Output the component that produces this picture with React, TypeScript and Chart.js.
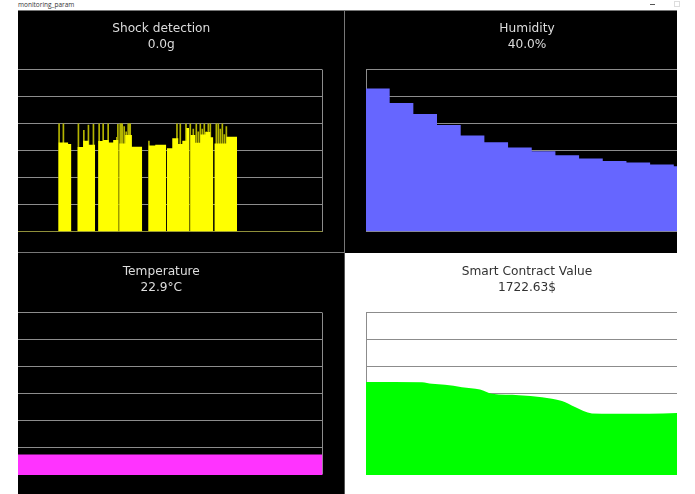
import * as React from "react"
import { Chart, registerables } from "chart.js"

Chart.register(...registerables)

// shock samples: null closes a run of readings
const shockX = [58.3, 68, 71.3, 71.4, 77.3, 83, 88.5, 95, 95.1, 98, 103, 108.5, 113, 118.3, 118.4, 119, 125, 131.7, 142, 142.1, 148.3, 155, 166, 166.1, 166.7, 172, 178, 182, 186, 189, 189.1, 190, 195, 200, 205, 210, 213, 213.1, 214, 226, 236.7]
const shockY = [3.31, 3.25, 3.25, null, 3.14, 3.37, 3.22, 3.22, null, 3.36, 3.4, 3.31, 3.4, 3.4, null, 3.27, 3.58, 3.15, 3.15, null, 3.19, 3.22, 3.22, null, 3.09, 3.46, 3.25, 3.37, 3.84, 3.84, null, 3.58, 3.3, 3.6, 3.7, 3.5, 3.5, null, 3.27, 3.52, 3.52]
const spikeX = [59, 63.3, 78.3, 83.7, 88.3, 93.3, 99, 103, 108, 116.7, 117.7, 120, 121, 122, 124, 126, 128, 129, 130, 148.7, 176.7, 180, 185.7, 190, 193, 196, 198, 200, 202, 204, 206, 208, 210, 216, 218, 220, 222, 224, 226]
const spikeY = [4, 4, 4, 3.76, 3.95, 3.98, 4, 4, 4, 3.5, 3.98, 4, 4, 4, 3.9, 3.7, 4, 4, 4, 3.36, 4, 4, 4, 4, 3.8, 4, 3.7, 4, 3.8, 4, 3.7, 4, 4, 4, 4, 3.8, 4, 3.6, 3.9]

const humidityValues = [88.6, 79.5, 72.7, 65.9, 59.4, 55.2, 52, 49.7, 47.2, 45.2, 43.7, 42.7, 41.5, 40.4, 40.4]

const temperatureX = [0, 322]
const temperatureValues = [22.9, 22.9]

const contractX = [0, 56, 66, 79, 96, 114, 126, 153, 176, 196, 209, 226, 246, 283, 311]
const contractValues = [2574, 2565, 2519, 2491, 2426, 2361, 2241, 2204, 2148, 2037, 1870, 1694, 1685, 1685, 1704]

const zip = (xs: number[], ys: (number | null)[]) => xs.map((x, i) => ({ x, y: ys[i] }))

function area(data: any[], color: string, stepped: any) {
  return {
    type: "line",
    data,
    stepped,
    fill: "origin",
    backgroundColor: color,
    borderWidth: 0,
    pointRadius: 0,
    tension: 0,
    spanGaps: false,
  }
}

function Panel({ box, canvasLeft, canvasWidth, padding, title, titleColor, bg, datasets, xMax, yMax, baseColor }: any) {
  const ref = React.useRef<HTMLCanvasElement>(null)

  React.useEffect(() => {
    if (!ref.current) return
    const chart = new Chart(ref.current, {
      data: { datasets },
      options: {
        responsive: false,
        animation: false,
        layout: { padding },
        plugins: {
          legend: { display: false },
          tooltip: { enabled: false },
          title: {
            display: true,
            text: title,
            color: titleColor,
            fullSize: false,
            font: { family: "DejaVu Sans", size: 12.2, weight: "normal", lineHeight: 1.31 },
            padding: { top: 10.5, bottom: 17.5 },
          },
        },
        scales: {
          x: {
            type: "linear",
            min: 0,
            max: xMax,
            // bar defaults would otherwise inset the scale
            offset: false,
            afterBuildTicks: (s: any) => { s.ticks = [{ value: 0 }, { value: xMax }] },
            ticks: { display: false },
            border: { display: false },
            grid: { color: "#8c8c8c", drawTicks: false, offset: false },
          },
          y: {
            min: 0,
            max: yMax,
            ticks: { display: false, count: 7 },
            border: { display: false },
            grid: {
              drawTicks: false,
              color: (c: any) => (c.tick.value === 0 ? baseColor : "#8c8c8c"),
            },
          },
        },
      } as any,
    } as any)
    return () => chart.destroy()
  }, [])

  return (
    <div style={{ position: "absolute", overflow: "hidden", background: bg, ...box }}>
      <canvas
        ref={ref}
        width={canvasWidth}
        height={box.height}
        style={{ position: "absolute", left: canvasLeft, top: 0, width: canvasWidth, height: box.height }}
      />
    </div>
  )
}

export default function App() {
  const shockSets = [
    area(zip(shockX, shockY), "#ffff00", "before"),
    { type: "bar", data: zip(spikeX, spikeY), backgroundColor: "#b4b400", barThickness: 1 },
  ]
  const contract = {
    ...area(zip(contractX, contractValues), "#00ff00", false),
    cubicInterpolationMode: "monotone",
  }

  return (
    <div style={{ position: "fixed", inset: 0, background: "#fff", overflow: "hidden" }}>
      <div style={{ position: "absolute", left: 18, top: 0, font: "6.5px 'Open Sans'", lineHeight: "9px", color: "#333" }}>monitoring_param</div>
      <div style={{ position: "absolute", left: 650, top: 4, width: 5, height: 1, background: "#555" }} />
      <div style={{ position: "absolute", left: 674, top: 1, width: 4, height: 4, border: "1px solid #ddd" }} />

      <Panel
        box={{ left: 18, top: 10, width: 326, height: 242 }}
        canvasLeft={-18}
        canvasWidth={344}
        padding={{ top: 0, left: 0, right: 21.5, bottom: 20.5 }}
        title={["Shock detection", "0.0g"]}
        titleColor="#dddddd"
        bg="#000"
        datasets={shockSets}
        xMax={322}
        yMax={6}
        baseColor="#8f8f3a"
      />
      <Panel
        box={{ left: 345, top: 10, width: 332, height: 243 }}
        canvasLeft={0}
        canvasWidth={350}
        padding={{ top: 0, left: 21, right: 7, bottom: 21.5 }}
        title={["Humidity", "40.0%"]}
        titleColor="#dddddd"
        bg="#000"
        datasets={[area(zip(humidityValues.map((_, i) => i), humidityValues), "#6666ff", "before")]}
        xMax={13.6}
        yMax={100}
        baseColor="#8c8c8c"
      />
      <Panel
        box={{ left: 18, top: 253, width: 326, height: 241 }}
        canvasLeft={-18}
        canvasWidth={344}
        padding={{ top: 0, left: 0, right: 21.5, bottom: 20 }}
        title={["Temperature", "22.9°C"]}
        titleColor="#dddddd"
        bg="#000"
        datasets={[area(zip(temperatureX, temperatureValues), "#ff33ff", false)]}
        xMax={322}
        yMax={190}
        baseColor="#ff33ff"
      />
      <Panel
        box={{ left: 345, top: 253, width: 332, height: 241 }}
        canvasLeft={0}
        canvasWidth={350}
        padding={{ top: 0, left: 21, right: 7, bottom: 20 }}
        title={["Smart Contract Value", "1722.63$"]}
        titleColor="#333333"
        bg="#fff"
        datasets={[contract]}
        xMax={322}
        yMax={4500}
        baseColor="#00ff00"
      />

      {/* panel separators */}
      <div style={{ position: "absolute", left: 18, top: 10, width: 659, height: 1, background: "#777" }} />
      <div style={{ position: "absolute", left: 344, top: 10, width: 1, height: 243, background: "#777" }} />
      <div style={{ position: "absolute", left: 18, top: 252, width: 326, height: 1, background: "#777" }} />
      <div style={{ position: "absolute", left: 344, top: 253, width: 1, height: 241, background: "#555" }} />
    </div>
  )
}
